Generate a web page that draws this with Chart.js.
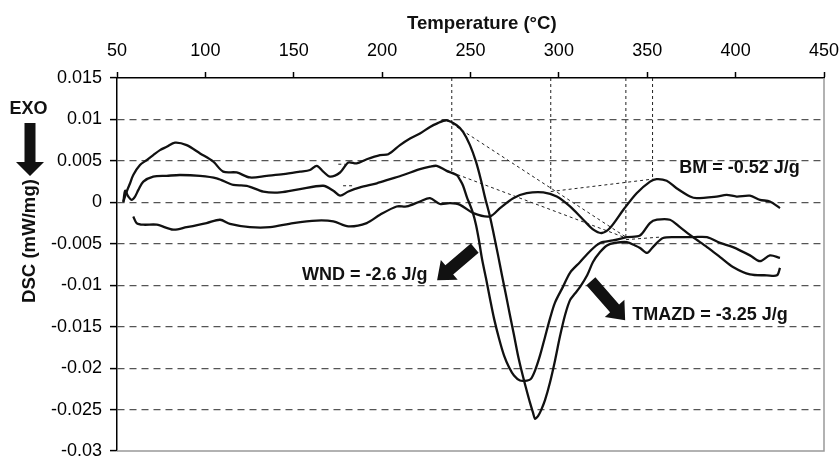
<!DOCTYPE html>
<html>
<head>
<meta charset="utf-8">
<script src="https://cdn.jsdelivr.net/npm/chart.js@4.4.1/dist/chart.umd.min.js"></script>
<style>
    body { margin: 0; background: #fff; }
    canvas { display: block; }
</style>
</head>
<body>
<canvas id="dscChart" width="839" height="457"></canvas>
<script>
// ---------- Data (temperature in °C, DSC in mW/mg) ----------
const tmazdTemp = [53.6, 55.5, 57.4, 59.2, 63.0, 66.8, 70.5, 74.3, 78.1, 82.8, 89.4, 97.0, 104.5, 110.1, 117.7, 125.2, 134.7, 144.1, 153.5, 159.2, 163.0, 166.7, 170.5, 176.2, 180.9, 185.6, 191.3, 198.8, 203.5, 210.1, 215.8, 221.4, 227.1, 230.9, 236.5, 242.2, 245.8, 249.7, 253.1, 255.9, 258.2, 261.0, 263.3, 265.6, 267.8, 270.1, 272.3, 274.6, 276.9, 279.1, 281.4, 283.7, 285.4, 286.5, 288.2, 289.9, 292.1, 295.0, 297.8, 300.6, 303.5, 306.3, 309.1, 312.0, 316.0, 319.3, 323.3, 327.2, 331.7, 338.5, 343.1, 345.9, 349.9, 353.2, 358.9, 368.5, 375.9, 383.8, 391.2, 398.5, 408.1, 413.8, 419.4, 425.1];
const tmazdDsc = [0.0001, 0.0013, 0.0023, 0.0033, 0.0045, 0.0051, 0.0057, 0.0063, 0.0067, 0.0072, 0.0069, 0.0059, 0.0049, 0.0037, 0.0036, 0.0030, 0.0032, 0.0034, 0.0037, 0.0039, 0.0044, 0.0037, 0.0031, 0.0036, 0.0048, 0.0047, 0.0052, 0.0057, 0.0058, 0.0069, 0.0077, 0.0083, 0.0091, 0.0095, 0.0099, 0.0093, 0.0085, 0.0069, 0.0049, 0.0027, 0.0006, -0.0017, -0.0040, -0.0064, -0.0088, -0.0112, -0.0136, -0.0160, -0.0185, -0.0205, -0.0224, -0.0242, -0.0254, -0.0261, -0.0258, -0.0251, -0.0239, -0.0217, -0.0191, -0.0162, -0.0136, -0.0118, -0.0110, -0.0102, -0.0088, -0.0072, -0.0060, -0.0052, -0.0049, -0.0048, -0.0052, -0.0055, -0.0061, -0.0054, -0.0043, -0.0042, -0.0042, -0.0042, -0.0049, -0.0054, -0.0064, -0.0071, -0.0064, -0.0067];

const wndTemp = [53.6, 54.6, 56.4, 58.3, 60.2, 62.1, 64.9, 70.5, 78.1, 85.6, 97.0, 106.4, 115.8, 123.4, 132.8, 142.2, 153.5, 166.7, 172.4, 176.2, 180.9, 187.5, 197.0, 204.5, 212.0, 221.4, 227.1, 230.9, 236.5, 242.2, 244.1, 245.8, 248.0, 249.7, 251.4, 253.1, 254.8, 256.5, 258.8, 261.0, 263.3, 266.1, 269.0, 271.8, 274.6, 278.0, 282.0, 284.2, 286.5, 289.3, 292.1, 295.0, 297.8, 302.3, 306.3, 312.0, 317.6, 323.3, 330.6, 338.5, 345.9, 351.5, 355.5, 362.8, 368.5, 375.9, 383.8, 391.2, 398.5, 408.1, 417.7, 423.4, 425.1];
const wndDsc = [0.0000, 0.0014, 0.0007, 0.0003, 0.0007, 0.0015, 0.0025, 0.0031, 0.0032, 0.0033, 0.0032, 0.0029, 0.0021, 0.0020, 0.0013, 0.0012, 0.0016, 0.0020, 0.0014, 0.0008, 0.0013, 0.0018, 0.0023, 0.0028, 0.0033, 0.0040, 0.0043, 0.0044, 0.0038, 0.0033, 0.0027, 0.0020, 0.0006, -0.0003, -0.0013, -0.0027, -0.0046, -0.0068, -0.0092, -0.0116, -0.0140, -0.0164, -0.0185, -0.0199, -0.0209, -0.0215, -0.0215, -0.0213, -0.0203, -0.0185, -0.0163, -0.0140, -0.0121, -0.0102, -0.0085, -0.0072, -0.0059, -0.0049, -0.0046, -0.0042, -0.0040, -0.0025, -0.0021, -0.0021, -0.0030, -0.0042, -0.0054, -0.0066, -0.0078, -0.0087, -0.0088, -0.0088, -0.0079];

const bmTemp = [59.2, 61.1, 64.9, 72.5, 81.9, 89.4, 100.7, 108.3, 113.9, 125.2, 136.6, 149.7, 163.0, 172.4, 180.9, 191.3, 198.8, 208.2, 213.9, 221.4, 227.1, 232.7, 238.4, 244.1, 251.6, 261.0, 266.7, 274.2, 281.8, 291.2, 298.8, 306.3, 313.8, 319.5, 324.2, 328.9, 336.5, 344.0, 351.6, 355.3, 361.0, 366.6, 374.2, 378.0, 389.2, 394.9, 400.6, 408.1, 413.8, 419.4, 425.1];
const bmDsc = [-0.0017, -0.0025, -0.0027, -0.0027, -0.0033, -0.0030, -0.0025, -0.0021, -0.0026, -0.0030, -0.0030, -0.0025, -0.0022, -0.0023, -0.0029, -0.0025, -0.0015, -0.0005, -0.0005, 0.0001, 0.0005, -0.0002, -0.0001, -0.0003, -0.0013, -0.0017, -0.0007, 0.0005, 0.0011, 0.0012, 0.0007, -0.0005, -0.0021, -0.0033, -0.0037, -0.0031, -0.0009, 0.0011, 0.0025, 0.0028, 0.0026, 0.0017, 0.0007, 0.0005, 0.0007, 0.0009, 0.0007, 0.0008, 0.0003, 0.0001, -0.0007];

// dotted construction lines (onset / baseline tangents)
const guideFromT = [239.4, 295.4, 337.9, 353.0, 236.5, 239.4, 295.4, 338.0, 175.2, 177.9];
const guideFromV = [0.015, 0.015, 0.015, 0.015, 0.0099, 0.0036, 0.0013, -0.0045, 0.0046, 0.0020];
const guideToT = [239.4, 295.4, 337.9, 353.0, 338.0, 338.0, 353.0, 357.0, 179.2, 183.5];
const guideToV = [0.0036, 0.0013, -0.0042, 0.0028, -0.0042, -0.0043, 0.0028, -0.0042, 0.0046, 0.0020];

// enthalpy labels and their arrows
const labelText = ["WND = -2.6 J/g", "TMAZD = -3.25 J/g", "BM = -0.52 J/g"];
const labelT = [154.7, 341.5, 368.1];
const labelV = [-0.0094, -0.01424, 0.0035];
const arrowFromT = [252.4, 318.1];
const arrowFromV = [-0.00553, -0.00952];
const arrowToT = [231.1, 337.5];
const arrowToV = [-0.0094, -0.01424];

const yMin = -0.03, yMax = 0.015, yStep = 0.005;
const xMin = 50, xMax = 450, xStep = 50;

// ---------- Helpers ----------
function toPoints(temps, values) {
    return temps.map((t, i) => ({ x: t, y: values[i] }));
}

function curve(temps, values) {
    return {
        data: toPoints(temps, values),
        borderColor: "#111",
        borderWidth: 2.3,
        pointRadius: 0,
        tension: 0.3,
        fill: false
    };
}

function drawArrow(ctx, x1, y1, x2, y2, shaft, head, headLen) {
    const len = Math.hypot(x2 - x1, y2 - y1);
    const ux = (x2 - x1) / len, uy = (y2 - y1) / len;
    const nx = -uy, ny = ux;
    const bx = x2 - ux * headLen, by = y2 - uy * headLen;
    ctx.beginPath();
    ctx.moveTo(x1 + nx * shaft, y1 + ny * shaft);
    ctx.lineTo(bx + nx * shaft, by + ny * shaft);
    ctx.lineTo(bx + nx * head, by + ny * head);
    ctx.lineTo(x2, y2);
    ctx.lineTo(bx - nx * head, by - ny * head);
    ctx.lineTo(bx - nx * shaft, by - ny * shaft);
    ctx.lineTo(x1 - nx * shaft, y1 - ny * shaft);
    ctx.closePath();
    ctx.fill();
}

// ---------- Annotations plugin ----------
const FONT = "'Liberation Sans', Arial, Helvetica, sans-serif";

const annotations = {
    id: "annotations",
    afterDraw(chart) {
        const { ctx, chartArea: area, scales: { x, y } } = chart;
        ctx.save();

        // grey frame on right and bottom
        ctx.strokeStyle = "#999";
        ctx.lineWidth = 1.5;
        ctx.beginPath();
        ctx.moveTo(area.right, area.top);
        ctx.lineTo(area.right, area.bottom);
        ctx.lineTo(area.left, area.bottom);
        ctx.stroke();

        ctx.fillStyle = "#111";
        ctx.font = "bold 18px " + FONT;
        ctx.textBaseline = "alphabetic";
        ctx.textAlign = "left";

        // labels
        labelText.forEach((txt, i) => {
            ctx.fillText(txt, x.getPixelForValue(labelT[i]), y.getPixelForValue(labelV[i]));
        });

        // arrows
        arrowFromT.forEach((t, i) => {
            drawArrow(ctx, x.getPixelForValue(t), y.getPixelForValue(arrowFromV[i]),
                x.getPixelForValue(arrowToT[i]), y.getPixelForValue(arrowToV[i]), 6, 13, 16);
        });

        // axis titles (a touch larger than the labels)
        ctx.font = "bold 18.6px " + FONT;
        ctx.fillText("Temperature (°C)", 407, 28.5);

        ctx.save();
        ctx.translate(35, 303);
        ctx.rotate(-Math.PI / 2);
        ctx.fillText("DSC (mW/mg)", 0, 0);
        ctx.restore();

        // EXO arrow
        ctx.font = "bold 18px " + FONT;
        ctx.textAlign = "center";
        ctx.fillText("EXO", 28.5, 113.5);
        drawArrow(ctx, 30, 123, 30, 176, 5.5, 14, 14);

        ctx.restore();
    }
};

// ---------- Chart ----------
const datasets = [
    curve(tmazdTemp, tmazdDsc),
    curve(wndTemp, wndDsc),
    curve(bmTemp, bmDsc)
];

guideFromT.forEach((t, i) => {
    datasets.push({
        data: [{ x: t, y: guideFromV[i] }, { x: guideToT[i], y: guideToV[i] }],
        borderColor: "#222",
        borderWidth: 1,
        borderDash: [3, 3],
        pointRadius: 0,
        tension: 0,
        fill: false
    });
});

const yTickCount = Math.round((yMax - yMin) / yStep);

new Chart(document.getElementById("dscChart"), {
    type: "line",
    data: { datasets },
    options: {
        responsive: false,
        animation: false,
        devicePixelRatio: 1,
        layout: { padding: { top: 0, right: 15, bottom: 6, left: 0 } },
        plugins: { legend: { display: false }, tooltip: { enabled: false } },
        scales: {
            x: {
                type: "linear",
                position: "top",
                min: xMin,
                max: xMax,
                afterFit: (s) => { s.height = 78; s.paddingLeft = 0; s.paddingRight = 0; },
                ticks: { stepSize: xStep, color: "#000", padding: 10, maxRotation: 0, font: { family: FONT, size: 18 } },
                grid: { drawOnChartArea: false, tickLength: 6, tickColor: "#000", tickWidth: 1.5 },
                border: { color: "#000", width: 1.5 }
            },
            y: {
                type: "linear",
                min: yMin,
                max: yMax,
                afterFit: (s) => { s.width = 117; s.paddingTop = 0; s.paddingBottom = 0; },
                ticks: {
                    stepSize: yStep,
                    color: "#000",
                    padding: 8,
                    font: { family: FONT, size: 18 },
                    callback: (v) => String(parseFloat(v.toFixed(3)))
                },
                grid: {
                    color: (c) => (c.index === 0 || c.index === yTickCount) ? "rgba(0,0,0,0)" : "#555",
                    lineWidth: 1.2,
                    tickLength: 7,
                    tickColor: "#000",
                    tickWidth: 1.5
                },
                border: { color: "#000", width: 1.5, dash: [7, 5] }
            }
        }
    },
    plugins: [annotations]
});
</script>
</body>
</html>
